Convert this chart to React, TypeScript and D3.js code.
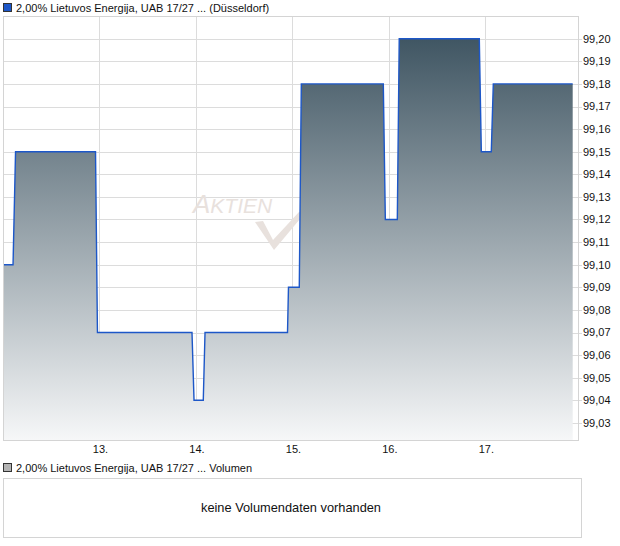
import React from "react";
import * as d3 from "d3";

// time in days (day-of-month, fractional), price in EUR
const times = [
  12.0, 12.104, 12.13, 12.959, 12.979, 13.959, 13.98, 14.076, 14.094, 14.949,
  14.959, 15.071, 15.092, 15.942, 15.963, 16.087, 16.107, 16.937, 16.958,
  17.061, 17.082, 17.905,
];
const prices = [
  99.1, 99.1, 99.15, 99.15, 99.07, 99.07, 99.04, 99.04, 99.07, 99.07, 99.09,
  99.09, 99.18, 99.18, 99.12, 99.12, 99.2, 99.2, 99.15, 99.15, 99.18, 99.18,
];
const yTicks = [
  99.03, 99.04, 99.05, 99.06, 99.07, 99.08, 99.09, 99.1, 99.11, 99.12, 99.13,
  99.14, 99.15, 99.16, 99.17, 99.18, 99.19, 99.2,
];
const xTicks = [13, 14, 15, 16, 17];
const priceTitle = "2,00% Lietuvos Energija, UAB 17/27 ... (Düsseldorf)";
const volumeTitle = "2,00% Lietuvos Energija, UAB 17/27 ... Volumen";
const noVolumeText = "keine Volumendaten vorhanden";

const FONT = "'Liberation Sans', Arial, sans-serif";

export default function App() {
  const W = 620;
  const H = 546;
  const left = 3;
  const right = 578;
  const top = 16;
  const bottom = 440;

  const x = d3.scaleLinear().domain([12, 17.96]).range([left, right]);
  const y = d3.scaleLinear().domain([99.2, 99.03]).range([38.7, 422.9]);

  const data = times.map((t, i) => ({ t, v: prices[i] }));
  const line = d3
    .line<{ t: number; v: number }>()
    .x((d) => x(d.t))
    .y((d) => y(d.v));
  const area = d3
    .area<{ t: number; v: number }>()
    .x((d) => x(d.t))
    .y0(bottom)
    .y1((d) => y(d.v));

  const fmt = (v: number) => v.toFixed(2).replace(".", ",");

  return (
    <svg
      width={W}
      height={H}
      style={{ position: "absolute", left: 0, top: 0, background: "#fff" }}
      fontFamily={FONT}
    >
      <defs>
        <linearGradient
          id="fillGrad"
          gradientUnits="userSpaceOnUse"
          x1={0}
          x2={0}
          y1={y(99.2)}
          y2={bottom}
        >
          <stop offset="0" stopColor="#405663" />
          <stop offset="1" stopColor="#f6f7f8" />
        </linearGradient>
      </defs>

      {/* legend top */}
      <rect x={3.5} y={3.5} width={8} height={8} fill="#1d57c8" stroke="#333" strokeWidth={1} />
      <text x={16} y={12} fontSize={11} fill="#111">
        {priceTitle}
      </text>

      {/* grid */}
      {yTicks.map((v) => (
        <line
          key={"h" + v}
          x1={left}
          x2={right + 4}
          y1={Math.round(y(v)) + 0.5}
          y2={Math.round(y(v)) + 0.5}
          stroke="#dcdcdc"
          strokeWidth={1}
        />
      ))}
      {xTicks.map((d) => (
        <line
          key={"v" + d}
          x1={Math.round(x(d)) + 0.5}
          x2={Math.round(x(d)) + 0.5}
          y1={top}
          y2={bottom}
          stroke="#dcdcdc"
          strokeWidth={1}
        />
      ))}

      {/* watermark */}
      <g fill="#e8e1dd">
        <text x={193} y={213} fontSize={26} fontStyle="italic" fontFamily={FONT}>
          A
          <tspan fontSize={21}>KTIEN</tspan>
        </text>
        <path d="M255,222 L263,221 L273,240 L299,212 L305,213 L274,250 Z" />
      </g>

      {/* area and line */}
      <path d={area(data) || ""} fill="url(#fillGrad)" />
      <path d={line(data) || ""} fill="none" stroke="#1d57c8" strokeWidth={1.4} />

      {/* frame */}
      <rect
        x={left + 0.5}
        y={top + 0.5}
        width={right - left}
        height={bottom - top}
        fill="none"
        stroke="#d4d4d4"
        strokeWidth={1}
      />

      {/* y axis labels */}
      {yTicks.map((v) => (
        <text key={"yl" + v} x={583} y={y(v)} dy="0.35em" fontSize={11} fill="#111">
          {fmt(v)}
        </text>
      ))}

      {/* x axis labels */}
      {xTicks.map((d) => (
        <text key={"xl" + d} x={x(d) + 1} y={453} textAnchor="middle" fontSize={11} fill="#111">
          {d + "."}
        </text>
      ))}

      {/* volume legend */}
      <rect x={3.5} y={463.5} width={8} height={8} fill="#b4b4b4" stroke="#333" strokeWidth={1} />
      <text x={16} y={472} fontSize={11} fill="#111">
        {volumeTitle}
      </text>

      {/* volume panel */}
      <rect x={3.5} y={478.5} width={578} height={59} fill="#fff" stroke="#d4d4d4" strokeWidth={1} />
      <text x={291} y={512} textAnchor="middle" fontSize={12.8} fill="#111">
        {noVolumeText}
      </text>
    </svg>
  );
}
